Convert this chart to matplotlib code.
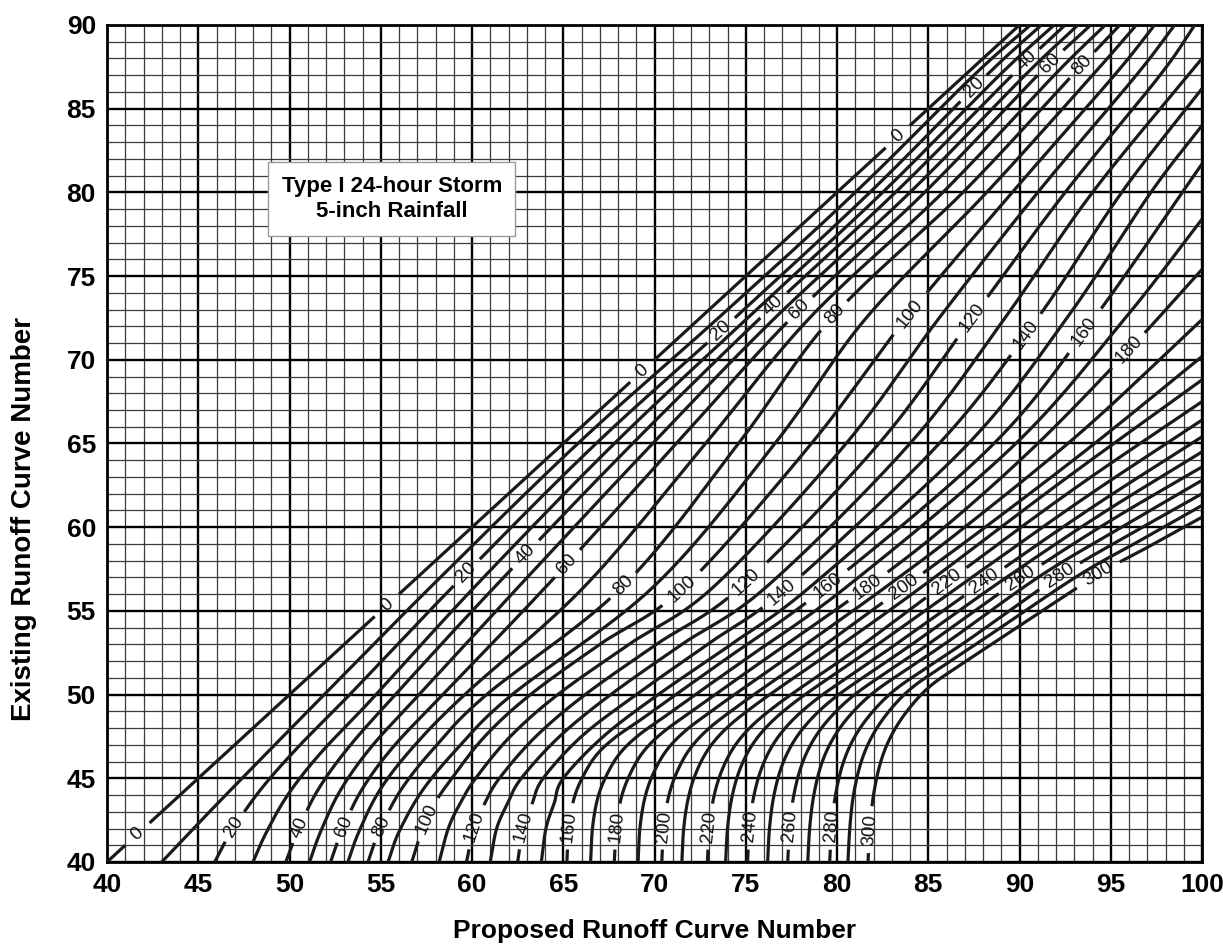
import numpy as np
import matplotlib
matplotlib.use("Agg")
import matplotlib.pyplot as plt

plt.rcParams['font.family'] = ['Liberation Sans', 'DejaVu Sans']

# ---------------- data ----------------
x_ticks = [40, 45, 50, 55, 60, 65, 70, 75, 80, 85, 90, 95, 100]
y_ticks = [40, 45, 50, 55, 60, 65, 70, 75, 80, 85, 90]
curve_values = list(range(0, 310, 10))

c000 = [(40, 40), (50, 50), (60, 60), (70, 70), (80, 80), (90, 90)]
c010 = [(43.0, 40), (45.0, 42.3), (47.4, 45), (51.9, 50), (57.8, 56.5), (65.8, 65), (73.5, 72.5), (81, 80), (87.5, 87), (90.6, 90)]
c020 = [(45.9, 40), (46.8, 41.8), (48.4, 44.3), (50.5, 46.9), (53.3, 50), (59.0, 56.5), (66.8, 65), (74.4, 72.5), (81.8, 80), (88.2, 87), (91.2, 90)]
c030 = [(48.0, 40), (48.7, 41.7), (49.9, 44.0), (51.7, 46.5), (54.4, 49.6), (60.2, 56.5), (67.8, 65), (75.1, 72.5), (82.5, 80), (88.9, 87), (91.9, 90)]
c040 = [(49.8, 40), (50.4, 41.7), (51.5, 44.2), (53.2, 46.8), (55.8, 50), (61.3, 56.5), (68.8, 65), (75.8, 72.5), (83.2, 80), (89.6, 87), (92.5, 90)]
c050 = [(51.1, 40), (51.7, 41.8), (52.8, 44.3), (54.5, 46.9), (57.1, 50), (62.6, 56.5), (69.9, 65), (76.6, 72.5), (84.0, 80), (90.3, 87), (93.2, 90)]
c060 = [(52.25, 40), (52.85, 41.8), (53.95, 44.3), (55.7, 46.9), (58.4, 50), (64.1, 56.5), (71.2, 65), (77.5, 72.5), (84.8, 80), (91.0, 87), (93.9, 90)]
c070 = [(53.2, 40), (53.8, 41.8), (54.95, 44.3), (56.8, 46.9), (59.6, 50), (66.2, 56.5), (72.8, 65), (78.5, 72.5), (85.8, 80), (91.9, 87), (94.7, 90)]
c080 = [(54.3, 40), (54.9, 41.8), (56.1, 44.3), (58.0, 46.9), (60.8, 50), (68.3, 56.5), (74.6, 65), (79.7, 72.5), (86.9, 80), (92.9, 87), (95.5, 90)]
c090 = [(55.4, 40), (56.0, 41.8), (57.3, 44.3), (59.3, 46.9), (62.2, 50), (70.0, 56.5), (76.6, 65), (81.6, 72.5), (88.2, 80), (94.0, 87), (96.4, 90)]
c100 = [(56.7, 40), (57.3, 42), (57.95, 43.5), (58.9, 45), (60.7, 47.5), (63.2, 50), (67.0, 53), (71.7, 56.5), (78.6, 65), (83.8, 72.5), (89.6, 80), (95.2, 87), (97.4, 90)]
c110 = [(58.2, 40), (58.7, 42), (59.35, 43.5), (60.2, 45), (62.1, 47.5), (64.7, 50), (68.6, 53), (73.3, 56.5), (80.5, 65), (85.6, 72.5), (91.0, 80), (96.4, 87), (98.5, 90)]
c120 = [(59.7, 40), (60.1, 42), (60.7, 43.5), (61.5, 45), (63.5, 47.5), (66.2, 50), (70.1, 53), (74.8, 56.5), (82.3, 65), (87.4, 72.5), (92.5, 80), (97.7, 87), (99.6, 90)]
c130 = [(61.0, 40), (61.35, 42), (61.95, 43.5), (62.7, 45), (64.8, 47.5), (67.6, 50), (71.5, 53), (76.2, 56.5), (84.0, 65), (89.2, 72.5), (94.0, 80), (100, 88.0)]
c140 = [(62.5, 40), (62.8, 42), (63.3, 43.5), (63.9, 45), (66.0, 47.5), (69.0, 50), (72.9, 53), (77.4, 56.5), (85.6, 65), (91.0, 72.5), (95.6, 80), (100, 86.2)]
c150 = [(63.8, 40), (64.05, 42), (64.5, 43.5), (65.0, 45), (67.2, 47.5), (70.2, 50), (74.2, 53), (78.6, 56.5), (87.2, 65), (92.6, 72.5), (97.2, 80), (100, 84.0)]
c160 = [(65.2, 40), (65.3, 42), (65.57, 43.72), (66.04, 45.02), (66.78, 46.34), (67.82, 47.42), (69.3, 48.54), (71.14, 49.98), (73.64, 51.92), (79.5, 56.5), (88.6, 65), (94.1, 72.5), (100, 81.7)]
c170 = [(66.5, 40), (66.6, 42), (66.87, 43.74), (67.33, 45.09), (68.06, 46.43), (69.09, 47.54), (70.55, 48.68), (72.38, 50.11), (74.88, 52.04), (80.6, 56.5), (89.8, 65), (95.8, 72.5), (100, 78.4)]
c180 = [(67.8, 40), (67.9, 42), (68.16, 43.76), (68.62, 45.16), (69.34, 46.52), (70.36, 47.66), (71.8, 48.82), (73.62, 50.24), (76.12, 52.16), (81.7, 56.45), (86.0, 60.1), (91.0, 65.0), (96.0, 70.6), (100, 75.4)]
c190 = [(69.1, 40), (69.2, 42), (69.46, 43.78), (69.91, 45.23), (70.62, 46.61), (71.63, 47.78), (73.05, 48.96), (74.86, 50.37), (77.36, 52.28), (82.7, 56.45), (87.0, 60.0), (93.5, 65.8), (100, 72.4)]
c200 = [(70.4, 40), (70.5, 42), (70.75, 43.8), (71.2, 45.3), (71.9, 46.7), (72.9, 47.9), (74.3, 49.1), (76.1, 50.5), (78.6, 52.4), (83.7, 56.45), (88.0, 59.9), (94.0, 64.9), (100, 70.2)]
c210 = [(71.5, 40), (71.6, 42), (71.85, 43.82), (72.29, 45.37), (72.98, 46.79), (73.97, 48.02), (75.35, 49.24), (77.14, 50.63), (79.64, 52.52), (84.85, 56.6), (92.4, 62.8), (100, 68.8)]
c220 = [(72.9, 40), (73.0, 42), (73.24, 43.84), (73.68, 45.44), (74.36, 46.88), (75.34, 48.14), (76.7, 49.38), (78.48, 50.76), (80.98, 52.64), (86.05, 56.74), (93.0, 62.3), (100, 67.5)]
c230 = [(73.9, 40), (74.0, 42), (74.24, 43.86), (74.67, 45.51), (75.34, 46.97), (76.31, 48.26), (77.65, 49.52), (79.42, 50.89), (81.92, 52.76), (87.05, 56.74), (93.5, 61.7), (100, 66.4)]
c240 = [(75.1, 40), (75.2, 42), (75.43, 43.88), (75.86, 45.58), (76.52, 47.06), (77.48, 48.38), (78.8, 49.66), (80.56, 51.02), (83.06, 52.88), (88.06, 56.74), (94.0, 61.2), (100, 65.4)]
c250 = [(76.2, 40), (76.3, 42), (76.53, 43.9), (76.95, 45.65), (77.6, 47.15), (78.55, 48.5), (79.85, 49.8), (81.6, 51.15), (84.1, 53.0), (89.07, 56.84), (94.5, 60.8), (100, 64.5)]
c260 = [(77.3, 40), (77.4, 42), (77.62, 43.92), (78.04, 45.72), (78.68, 47.24), (79.62, 48.62), (80.9, 49.94), (82.64, 51.28), (85.14, 53.12), (90.07, 56.94), (95.0, 60.4), (100, 63.6)]
c270 = [(78.4, 40), (78.5, 42), (78.72, 43.94), (79.13, 45.79), (79.76, 47.33), (80.69, 48.74), (81.95, 50.08), (83.68, 51.41), (86.18, 53.24), (91.15, 57.1), (95.6, 60.0), (100, 62.8)]
c280 = [(79.6, 40), (79.7, 42), (79.91, 43.96), (80.32, 45.86), (80.94, 47.42), (81.86, 48.86), (83.1, 50.22), (84.82, 51.54), (87.32, 53.36), (92.2, 57.1), (96.1, 59.6), (100, 62.0)]
c290 = [(80.6, 40), (80.7, 42), (80.9, 43.98), (81.31, 45.93), (81.92, 47.51), (82.83, 48.98), (84.05, 50.36), (85.76, 51.67), (88.26, 53.48), (93.2, 57.1), (96.6, 59.2), (100, 61.3)]
c300 = [(81.7, 40), (81.8, 42), (82.0, 44.0), (82.4, 46.0), (83.0, 47.6), (83.9, 49.1), (85.1, 50.5), (86.8, 51.8), (89.3, 53.6), (94.2, 57.1), (97.1, 58.85), (100, 60.6)]

curves = [c000, c010, c020, c030, c040, c050, c060, c070, c080, c090, c100,
          c110, c120, c130, c140, c150, c160, c170, c180, c190, c200,
          c210, c220, c230, c240, c250, c260, c270, c280, c290, c300]

# curve labels: (text, x, y)
labels_bottom = [("0", 41.4, 42.1), ("20", 46.9, 42.1), ("40", 50.5, 42.1), ("60", 53.0, 42.1),
                 ("80", 55.1, 42.1), ("100", 57.5, 42.6), ("120", 60.1, 42.1), ("140", 62.9, 42.1),
                 ("160", 65.5, 42.1), ("180", 68.1, 42.1), ("200", 70.6, 42.1), ("220", 73.0, 42.1),
                 ("240", 75.4, 42.1), ("260", 77.6, 42.1), ("280", 79.8, 42.1), ("300", 81.9, 41.9)]
labels_middle = [("0", 55.5, 55.25), ("20", 59.8, 57.4), ("40", 62.7, 58.5), ("60", 65.3, 57.6),
                 ("80", 68.7, 56.05), ("100", 71.9, 56.05), ("120", 75.0, 56.5), ("140", 77.0, 55.9),
                 ("160", 79.4, 56.5), ("180", 81.7, 56.4), ("200", 83.7, 56.4), ("220", 86.0, 56.7),
                 ("240", 88.1, 56.7), ("260", 90.1, 56.9), ("280", 92.2, 57.2), ("300", 94.2, 57.3)]
labels_upper = [("0", 69.65, 69.0), ("20", 73.8, 71.8), ("40", 76.6, 73.4), ("60", 77.9, 73.0),
                ("80", 79.7, 72.8), ("100", 83.8, 72.8), ("120", 87.4, 72.6), ("140", 90.4, 71.6),
                ("160", 93.55, 71.6), ("180", 96.0, 70.6)]
labels_top = [("0", 83.75, 83.1), ("20", 88.0, 85.7), ("40", 90.9, 87.2), ("60", 92.1, 87.2), ("80", 93.6, 87.3)]

title_lines = ["Type I 24-hour Storm", "5-inch Rainfall"]
x_label = "Proposed Runoff Curve Number"
y_label = "Existing Runoff Curve Number"

# ---------------- drawing ----------------
W, H = 1223, 950
fig = plt.figure(figsize=(W / 100, H / 100), dpi=100)
L, R, T, B = 107, 1202, 25, 862
ax = fig.add_axes([L / W, 1 - B / H, (R - L) / W, (B - T) / H])
ax.set_xlim(40, 100)
ax.set_ylim(40, 90)

for v in range(40, 101):
    major = v % 5 == 0
    ax.axvline(v, color='black' if major else '#3a3a3a', lw=1.7 if major else 0.9, zorder=1)
for v in range(40, 91):
    major = v % 5 == 0
    ax.axhline(v, color='black' if major else '#3a3a3a', lw=1.7 if major else 0.9, zorder=1)

for s in ax.spines.values():
    s.set_linewidth(2)

ax.set_xticks(x_ticks)
ax.set_yticks(y_ticks)
ax.set_xticklabels([str(t) for t in x_ticks], fontsize=19, fontweight='bold')
ax.set_yticklabels([str(t) for t in y_ticks], fontsize=19, fontweight='bold')
ax.tick_params(length=0, pad=8)
ax.set_xlabel(x_label, fontsize=19, fontweight='bold', labelpad=16)
ax.set_ylabel(y_label, fontsize=20, fontweight='bold')
ax.yaxis.set_label_coords(-0.064, 0.41)


def smooth(pts, n=30):
    p = np.array(pts, dtype=float)
    if len(p) < 3:
        t = np.linspace(0, 1, n)[:, None]
        return p[0] + (p[1] - p[0]) * t
    ext = np.vstack([2 * p[0] - p[1], p, 2 * p[-1] - p[-2]])
    out = []
    for i in range(1, len(ext) - 2):
        p0, p1, p2, p3 = ext[i - 1], ext[i], ext[i + 1], ext[i + 2]
        t = np.linspace(0, 1, n, endpoint=False)[:, None]
        seg = 0.5 * ((2 * p1) + (-p0 + p2) * t + (2 * p0 - 5 * p1 + 4 * p2 - p3) * t ** 2
                     + (-p0 + 3 * p1 - 3 * p2 + p3) * t ** 3)
        out.append(seg)
    out.append(p[-1:])
    return np.vstack(out)


fig.canvas.draw()
trans = ax.transData
smoothed = {v: smooth(c) for v, c in zip(curve_values, curves)}

all_labels = labels_bottom + labels_middle + labels_upper + labels_top
gaps = {v: [] for v in curve_values}
label_draw = []
for txt, lx, ly in all_labels:
    v = int(txt)
    pts = smoothed[v]
    disp = trans.transform(pts)
    c = trans.transform((lx, ly))
    d = np.hypot(disp[:, 0] - c[0], disp[:, 1] - c[1])
    i = int(np.argmin(d))
    i0, i1 = max(i - 2, 0), min(i + 2, len(pts) - 1)
    dx, dy = disp[i1] - disp[i0]
    ang = np.degrees(np.arctan2(dy, dx))
    if ang > 90:
        ang -= 180
    if ang <= -90:
        ang += 180
    half = 5 + 6 * len(txt)
    gaps[v].append((disp[i], half))
    label_draw.append((txt, pts[i], ang))

for v in curve_values:
    pts = smoothed[v].copy()
    disp = trans.transform(pts)
    mask = np.zeros(len(pts), bool)
    for cc, r in gaps[v]:
        mask |= np.hypot(disp[:, 0] - cc[0], disp[:, 1] - cc[1]) < r
    pts[mask] = np.nan
    ax.plot(pts[:, 0], pts[:, 1], color='#1a1a1a', lw=2.3, solid_capstyle='butt', zorder=3,
            clip_on=True)

for txt, p, ang in label_draw:
    ax.text(p[0], p[1], txt, rotation=ang, rotation_mode='anchor', ha='center', va='center',
            fontsize=13.5, color='#111111', zorder=4)

ax.text(55.6, 79.6, "\n".join(title_lines), ha='center', va='center', fontsize=16,
        fontweight='bold', linespacing=1.3, zorder=5,
        bbox=dict(facecolor='white', edgecolor='#999999', lw=1.0, boxstyle='square,pad=0.6'))

fig.savefig("out.png", dpi=100)
